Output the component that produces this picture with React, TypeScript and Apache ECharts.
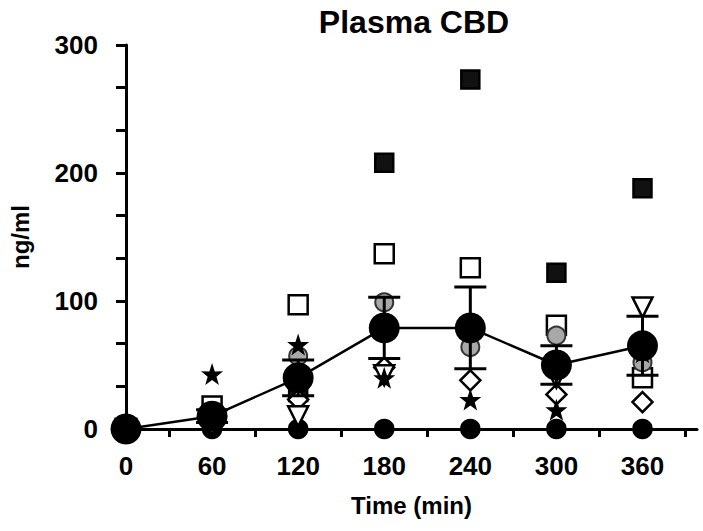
import React, { useEffect, useRef } from "react";
import * as echarts from "echarts";

const times = [0, 60, 120, 180, 240, 300, 360];
const meanValues = [0, 10, 40, 79, 79, 50, 65];
const semValues = [0, 5, 14, 24, 32, 15, 23];

const filledSquare = [0, 8, 29, 208, 273, 122, 188];
const openSquare = [0, 18, 97, 137, 126, 81, 40];
const greyCircle = [0, 14, 57, 99, 64, 73, 52];
const openDiamond = [0, 5, 23, 48, 38, 27, 21];
const openTriangle = [0, 3, 10, 42, 76, 40, 95];
const blackStar = [0, 43, 66, 40, 23, 15, 60];
const blackDot = [0, 0, 0, 0, 0, 0, 0];

const xTickValues = [0, 30, 60, 90, 120, 150, 180, 210, 240, 270, 300, 330, 360, 390];
const xLabelValues = [0, 60, 120, 180, 240, 300, 360];

const STAR =
  "path://M50,0 L61.8,35.1 L97.6,34.5 L69.1,56.4 L79.4,90.5 L50,70 L20.6,90.5 L30.9,56.4 L2.4,34.5 L38.2,35.1 Z";

const FONT = "'Liberation Sans', Arial, Helvetica, sans-serif";

function pairs(vals: number[]) {
  return times.map((t, i) => [t, vals[i]]);
}

export default function App() {
  const ref = useRef<HTMLDivElement>(null);
  useEffect(() => {
    if (!ref.current) return;
    const chart = echarts.init(ref.current, null, { renderer: "svg" });

    const subject = (
      name: string,
      vals: number[],
      symbol: string,
      size: number,
      fill: string,
      extra: any = {}
    ) => ({
      type: "scatter",
      name,
      data: pairs(vals),
      symbol,
      symbolSize: size,
      clip: false,
      z: 2,
      itemStyle: { color: fill, borderColor: "#000", borderWidth: 2.5, opacity: 1 },
      ...extra,
    });

    chart.setOption({
      animation: false,
      title: {
        text: "Plasma CBD",
        left: 409,
        top: 1,
        textAlign: "center",
        textStyle: { fontFamily: FONT, fontWeight: "bold", fontSize: 32, color: "#000" },
      },
      grid: { left: 126, top: 45, right: 6, bottom: 102, containLabel: false },
      xAxis: {
        type: "value",
        min: 0,
        max: 398,
        name: "Time (min)",
        nameLocation: "middle",
        nameGap: 64,
        nameTextStyle: { fontFamily: FONT, fontWeight: "bold", fontSize: 24, color: "#000" },
        axisLine: { show: true, lineStyle: { color: "#000", width: 3 } },
        axisTick: {
          show: true,
          length: 8,
          inside: false,
          customValues: xTickValues,
          lineStyle: { color: "#000", width: 3 },
        },
        axisLabel: {
          customValues: xLabelValues,
          margin: 24,
          fontFamily: FONT,
          fontWeight: "bold",
          fontSize: 26,
          color: "#000",
        },
        splitLine: { show: false },
      },
      yAxis: {
        type: "value",
        min: 0,
        max: 300,
        interval: 100,
        name: "ng/ml",
        nameLocation: "middle",
        nameGap: 94,
        nameRotate: 90,
        nameTextStyle: { fontFamily: FONT, fontWeight: "bold", fontSize: 24, color: "#000" },
        axisLine: { show: true, lineStyle: { color: "#000", width: 3 } },
        axisTick: { show: true, length: 10, lineStyle: { color: "#000", width: 3 } },
        minorTick: { show: true, splitNumber: 3, length: 10, lineStyle: { color: "#000", width: 3 } },
        axisLabel: {
          margin: 28,
          fontFamily: FONT,
          fontWeight: "bold",
          fontSize: 26,
          color: "#000",
        },
        splitLine: { show: false },
        minorSplitLine: { show: false },
      },
      series: [
        subject("Dot", blackDot, "circle", 18, "#000"),
        subject("Filled square", filledSquare, "rect", 18, "#111"),
        subject("Open square", openSquare, "rect", 19, "#fff"),
        subject("Grey circle", greyCircle, "circle", 18, "#a8a8a8", {
          itemStyle: { color: "#a8a8a8", borderColor: "#333", borderWidth: 2, opacity: 1 },
        }),
        subject("Open diamond", openDiamond, "diamond", 20, "#fff"),
        subject("Open triangle", openTriangle, "triangle", 20, "#fff", { symbolRotate: 180 }),
        subject("Star", blackStar, STAR, 22, "#000", {
          itemStyle: { color: "#000", borderColor: "#000", borderWidth: 0, opacity: 1 },
        }),
        {
          type: "custom",
          name: "SEM",
          z: 4,
          clip: false,
          data: times.map((t, i) => [t, meanValues[i], semValues[i]]),
          renderItem: (params: any, api: any) => {
            const x = api.value(0);
            const m = api.value(1);
            const s = api.value(2);
            if (s <= 0) return null;
            const top = api.coord([x, m + s]);
            const bot = api.coord([x, m - s]);
            const half = 16;
            const style = { stroke: "#000", lineWidth: 3, fill: "none" };
            return {
              type: "group",
              children: [
                { type: "line", shape: { x1: top[0], y1: top[1], x2: bot[0], y2: bot[1] }, style },
                { type: "line", shape: { x1: top[0] - half, y1: top[1], x2: top[0] + half, y2: top[1] }, style },
                { type: "line", shape: { x1: bot[0] - half, y1: bot[1], x2: bot[0] + half, y2: bot[1] }, style },
              ],
            };
          },
        },
        {
          type: "line",
          name: "Mean",
          z: 5,
          clip: false,
          data: pairs(meanValues),
          symbol: "circle",
          symbolSize: 31,
          showSymbol: true,
          lineStyle: { color: "#000", width: 2.5 },
          itemStyle: { color: "#000", borderColor: "#000", borderWidth: 0 },
        },
      ],
    });
    return () => chart.dispose();
  }, []);
  return (
    <div
      ref={ref}
      style={{ position: "fixed", left: 0, top: 0, width: 703, height: 531, background: "#fff" }}
    />
  );
}
